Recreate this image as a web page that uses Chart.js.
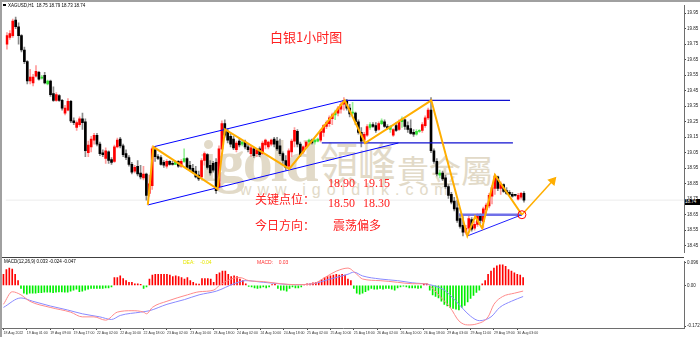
<!DOCTYPE html>
<html><head><meta charset="utf-8">
<script src="https://cdn.jsdelivr.net/npm/chart.js@4.4.1/dist/chart.umd.min.js"></script>
<style>
html,body{margin:0;padding:0;background:#fff;}
#wrap{position:relative;width:700px;height:337px;overflow:hidden;background:#fff;}
canvas{position:absolute;left:0;}
.t{position:absolute;white-space:pre;line-height:1;}
.wm{position:absolute;white-space:pre;line-height:1;color:#e2dac8;z-index:0;}
.red{color:#ff2020;z-index:3;}
</style></head><body>
<div id="wrap">
  <div class="wm" style="left:200px;top:127px;font:bold 60px 'Liberation Serif';letter-spacing:-2px;">igold</div>
  <div class="wm" style="left:320px;top:128px;font:38px 'Noto Sans CJK TC';transform:scaleY(1.2);transform-origin:0 0;">領峰</div>
  <div class="wm" style="left:397px;top:146px;font:32px 'Noto Sans CJK TC';">貴金屬</div>
  <div class="wm" style="left:240px;top:181px;font:16px 'Liberation Sans';letter-spacing:6px;">www.igoldhk.com</div>

  <canvas id="main" width="700" height="258" style="top:0;z-index:1"></canvas>
  <canvas id="macd" width="700" height="79" style="top:258px;z-index:1"></canvas>

  <div class="t" style="left:0;top:0;width:700px;height:2px;background:#a0a0a0;z-index:4"></div>
  <div class="t" style="left:0;top:0;width:2px;height:337px;background:#a0a0a0;z-index:4"></div>
  <div class="t" style="left:2px;top:257px;width:682px;height:1px;background:#404040;z-index:4"></div>

  <div class="t" style="left:3px;top:4px;width:3px;height:2px;background:#000;z-index:4"></div>
  <div class="t" style="left:8px;top:3px;font:4.5px 'Liberation Sans';color:#000;z-index:4">XAGUSD,H1  18.75 18.79 18.73 18.74</div>
  <div class="t" style="left:685px;top:199px;width:15px;height:6px;background:#000;color:#fff;font:4.5px 'Liberation Sans';line-height:6px;z-index:4">18.74</div>

  <div class="t red" style="left:270px;top:27px;font:13px 'Noto Sans CJK SC';">白银1小时图</div>
  <div class="t red" style="left:328px;top:176px;font:12px 'Liberation Serif';">18.90</div>
  <div class="t red" style="left:363px;top:176px;font:12px 'Liberation Serif';">19.15</div>
  <div class="t red" style="left:255px;top:190px;font:12px 'Noto Sans CJK SC';">关键点位：</div>
  <div class="t red" style="left:328px;top:196px;font:12px 'Liberation Serif';">18.50</div>
  <div class="t red" style="left:363px;top:196px;font:12px 'Liberation Serif';">18.30</div>
  <div class="t red" style="left:255px;top:216px;font:12px 'Noto Sans CJK SC';">今日方向：</div>
  <div class="t red" style="left:333px;top:216px;font:12px 'Noto Sans CJK SC';">震荡偏多</div>

  <div class="t" style="left:4px;top:259px;font:4.5px 'Liberation Sans';color:#000;z-index:4">MACD(12,26,9) 0.033 -0.024 -0.047</div>
  <div class="t" style="left:183px;top:259px;font:5px 'Liberation Sans';color:#e6e600;z-index:4">DEA:    -0.04</div>
  <div class="t" style="left:257px;top:259px;font:5px 'Liberation Sans';color:#ff3030;z-index:4">MACD:    0.03</div>
</div>
<script>
// ---------- data ----------
const open = [19.750,19.794,19.806,19.906,19.863,19.806,19.713,19.638,19.513,19.500,
19.544,19.569,19.531,19.550,19.494,19.513,19.431,19.388,19.419,19.388,
19.306,19.325,19.381,19.256,19.213,19.231,19.269,19.250,19.050,19.088,
19.131,19.163,19.106,19.050,19.013,19.056,19.006,18.994,19.088,19.138,
19.094,19.044,19.019,18.975,18.931,18.963,18.919,18.888,18.913,18.788,
18.838,19.069,19.025,19.019,18.988,18.963,18.994,18.981,18.975,18.994,
18.963,18.994,19.013,18.969,18.950,18.931,18.906,18.894,19.000,19.038,
18.969,18.981,18.988,18.831,19.075,19.238,19.188,19.156,19.138,19.069,
19.125,19.106,19.119,19.088,19.044,19.075,19.044,19.075,19.044,19.100,
19.088,19.106,19.138,19.125,19.094,19.044,19.000,18.963,19.056,19.125,
19.188,19.106,19.056,19.088,19.119,19.131,19.119,19.125,19.131,19.181,
19.219,19.238,19.269,19.294,19.306,19.331,19.363,19.381,19.338,19.306,
19.306,19.250,19.181,19.131,19.163,19.213,19.231,19.225,19.200,19.238,
19.250,19.219,19.200,19.163,19.225,19.200,19.250,19.263,19.225,19.206,
19.181,19.169,19.188,19.194,19.225,19.275,19.325,19.063,18.994,18.906,
18.919,18.888,18.831,18.781,18.738,18.694,18.625,18.581,18.538,18.563,
18.619,18.563,18.588,18.644,18.606,18.681,18.706,18.769,18.819,18.894,
18.819,18.844,18.806,18.794,18.781,18.775,18.750,18.763,18.788];
const high = [19.825,19.838,19.913,19.925,19.888,19.813,19.731,19.644,19.588,19.556,
19.613,19.575,19.550,19.569,19.519,19.519,19.475,19.438,19.425,19.394,
19.356,19.400,19.388,19.275,19.256,19.281,19.306,19.269,19.125,19.156,
19.175,19.175,19.119,19.069,19.081,19.063,19.019,19.100,19.144,19.150,
19.106,19.069,19.031,18.988,18.969,19.000,18.969,18.963,18.919,18.906,
19.088,19.088,19.038,19.031,19.000,19.006,19.000,18.994,19.000,19.000,
19.006,19.075,19.019,18.994,18.975,18.963,18.931,19.013,19.056,19.044,
19.000,18.994,19.013,19.094,19.256,19.263,19.206,19.175,19.156,19.125,
19.144,19.131,19.131,19.106,19.094,19.081,19.075,19.088,19.125,19.138,
19.125,19.138,19.150,19.150,19.138,19.056,19.031,19.075,19.138,19.213,
19.200,19.119,19.094,19.125,19.138,19.138,19.138,19.144,19.200,19.231,
19.256,19.288,19.306,19.325,19.350,19.375,19.406,19.394,19.363,19.375,
19.313,19.263,19.213,19.181,19.231,19.244,19.244,19.244,19.250,19.269,
19.263,19.231,19.225,19.206,19.244,19.263,19.281,19.269,19.250,19.263,
19.200,19.200,19.200,19.244,19.288,19.338,19.406,19.075,19.013,18.938,
18.931,18.906,18.844,18.794,18.763,18.744,18.656,18.638,18.581,18.650,
18.631,18.606,18.656,18.656,18.700,18.725,18.788,18.838,18.913,18.900,
18.863,18.850,18.825,18.806,18.794,18.781,18.788,18.794,18.800];
const low = [19.719,19.781,19.794,19.850,19.750,19.700,19.625,19.494,19.494,19.481,
19.538,19.519,19.525,19.494,19.488,19.413,19.381,19.381,19.381,19.325,
19.294,19.319,19.244,19.231,19.194,19.219,19.200,19.025,19.025,19.056,
19.106,19.094,19.031,19.025,18.981,18.981,18.975,18.988,19.081,19.081,
19.025,19.006,18.963,18.913,18.919,18.900,18.881,18.875,18.744,18.769,
18.813,18.994,19.006,18.969,18.956,18.950,18.969,18.969,18.975,18.956,
18.956,18.988,18.944,18.938,18.919,18.888,18.869,18.881,18.969,18.944,
18.906,18.925,18.788,18.813,19.069,19.150,19.113,19.088,19.069,19.056,
19.088,19.094,19.075,19.056,19.025,19.019,19.025,19.025,19.038,19.075,
19.075,19.094,19.088,19.063,19.031,18.981,18.938,18.944,19.025,19.088,
19.088,19.025,19.044,19.081,19.106,19.106,19.106,19.119,19.119,19.156,
19.206,19.219,19.231,19.263,19.288,19.306,19.325,19.325,19.281,19.294,
19.231,19.169,19.088,19.119,19.156,19.200,19.213,19.181,19.194,19.231,
19.213,19.200,19.181,19.156,19.188,19.194,19.213,19.200,19.181,19.169,
19.156,19.163,19.181,19.181,19.213,19.263,19.050,18.981,18.900,18.888,
18.869,18.819,18.756,18.719,18.675,18.600,18.563,18.513,18.525,18.550,
18.544,18.550,18.575,18.594,18.563,18.656,18.694,18.719,18.781,18.806,
18.781,18.794,18.781,18.775,18.763,18.769,18.744,18.750,18.731];
const close = [19.806,19.819,19.900,19.863,19.806,19.713,19.638,19.513,19.538,19.538,
19.575,19.525,19.538,19.500,19.513,19.425,19.388,19.425,19.388,19.338,
19.338,19.381,19.256,19.244,19.244,19.269,19.244,19.063,19.100,19.138,
19.163,19.106,19.044,19.038,19.063,19.000,18.988,19.088,19.131,19.094,
19.038,19.019,18.975,18.925,18.956,18.913,18.894,18.913,18.775,18.850,
19.075,19.025,19.013,18.975,18.969,18.994,18.975,18.975,18.994,18.963,
18.994,19.013,18.956,18.944,18.925,18.894,18.881,19.000,19.044,18.956,
18.919,18.938,18.806,19.075,19.238,19.163,19.131,19.106,19.081,19.113,
19.100,19.119,19.088,19.069,19.081,19.031,19.069,19.038,19.113,19.131,
19.119,19.131,19.106,19.075,19.044,19.000,18.956,19.063,19.125,19.194,
19.106,19.038,19.088,19.119,19.131,19.113,19.131,19.138,19.188,19.225,
19.244,19.275,19.294,19.313,19.338,19.363,19.388,19.338,19.300,19.313,
19.250,19.181,19.125,19.169,19.219,19.231,19.219,19.194,19.238,19.256,
19.219,19.206,19.219,19.200,19.194,19.250,19.269,19.219,19.200,19.175,
19.169,19.188,19.194,19.231,19.275,19.325,19.063,18.994,18.913,18.919,
18.881,18.831,18.775,18.731,18.688,18.613,18.575,18.538,18.563,18.625,
18.556,18.588,18.644,18.613,18.688,18.713,18.775,18.825,18.900,18.819,
18.850,18.800,18.788,18.781,18.769,18.775,18.775,18.788,18.744];

const macdHist = [0.047,0.067,0.073,0.069,0.047,0.020,-0.013,-0.033,-0.037,-0.033,
-0.033,-0.033,-0.031,-0.031,-0.029,-0.029,-0.029,-0.031,-0.029,-0.028,
-0.028,-0.029,-0.029,-0.024,-0.020,-0.016,-0.027,-0.024,-0.020,-0.016,
-0.013,-0.013,-0.013,-0.013,-0.013,-0.011,-0.011,-0.007,0.033,0.033,
0.040,0.029,0.020,0.013,0.013,0.007,0.007,0.004,-0.013,-0.007,
0.027,0.043,0.047,0.047,0.047,0.047,0.047,0.043,0.037,0.040,
0.037,0.033,0.027,0.033,0.020,0.013,0.007,0.005,0.029,0.029,
0.029,0.027,0.013,0.047,0.053,0.060,0.060,0.047,0.037,0.040,
0.037,0.027,0.020,0.007,-0.004,-0.007,-0.011,-0.013,-0.011,-0.007,
-0.011,-0.007,0.003,0.004,-0.013,-0.020,-0.020,-0.024,-0.013,-0.007,
-0.011,-0.011,-0.007,0.004,0.007,0.007,0.011,0.013,0.016,0.024,
0.033,0.037,0.040,0.043,0.047,0.043,0.047,0.043,0.027,0.020,
-0.013,-0.033,-0.037,-0.033,-0.027,-0.020,-0.013,-0.016,-0.016,-0.013,
-0.016,-0.013,-0.013,-0.016,-0.020,-0.011,-0.007,-0.003,-0.007,-0.011,
-0.011,-0.011,-0.013,-0.011,0.004,0.007,-0.020,-0.040,-0.047,-0.053,
-0.067,-0.080,-0.087,-0.093,-0.097,-0.100,-0.104,-0.093,-0.085,-0.070,
-0.055,-0.042,-0.030,-0.020,0.007,0.020,0.047,0.060,0.073,0.083,
0.087,0.087,0.080,0.067,0.060,0.053,0.047,0.043,0.033];

// MACD lines read at bar positions [bar, value]
const difLine = [[0,-0.080],[3,-0.027],[6,-0.040],[9,-0.067],[16,-0.093],[23,-0.113],[27,-0.133],[31,-0.133],[35,-0.147],[39,-0.113],[44,-0.107],[48,-0.113],[49,-0.120],[51,-0.093],[56,-0.067],[63,-0.040],[67,-0.027],[72,-0.020],[74,0.000],[78,0.027],[81,0.033],[84,0.020],[89,0.016],[95,0.007],[100,0.003],[106,0.007],[111,0.040],[114,0.060],[118,0.073],[121,0.047],[123,0.027],[129,0.020],[135,0.013],[140,0.007],[145,0.007],[147,-0.013],[150,-0.053],[153,-0.093],[156,-0.150],[159,-0.167],[162,-0.163],[166,-0.133],[168,-0.080],[171,-0.047],[175,-0.033],[178,-0.024]];
const deaLine = [[0,-0.093],[6,-0.053],[10,-0.067],[16,-0.087],[22,-0.104],[27,-0.120],[33,-0.133],[37,-0.144],[40,-0.127],[47,-0.113],[50,-0.107],[56,-0.080],[62,-0.060],[67,-0.040],[73,-0.024],[79,0.007],[83,0.020],[89,0.013],[100,0.003],[106,0.007],[112,0.027],[118,0.047],[120,0.056],[123,0.040],[129,0.027],[135,0.020],[140,0.011],[146,0.003],[151,-0.020],[155,-0.067],[160,-0.130],[163,-0.149],[167,-0.133],[170,-0.093],[174,-0.067],[178,-0.047]];

const priceTicks = [19.95,19.85,19.75,19.65,19.55,19.45,19.35,19.25,19.15,19.05,18.95,18.85,18.75,18.65,18.55,18.45];
const macdTicks = [0.096,0,-0.172];
const timeLabels = ['18 Aug 2022','19 Aug 01:00','19 Aug 09:00','19 Aug 17:00','22 Aug 02:00','22 Aug 10:00','22 Aug 18:00','23 Aug 02:00','23 Aug 10:00','23 Aug 18:00','24 Aug 02:00','24 Aug 10:00','24 Aug 18:00','25 Aug 02:00','25 Aug 10:00','25 Aug 18:00','26 Aug 02:00','26 Aug 10:00','26 Aug 18:00','29 Aug 03:00','29 Aug 11:00','29 Aug 19:00','30 Aug 03:00'];

// hand-drawn analysis lines, in [bar, price]
const channelUpper = [[50.4,19.088],[116.3,19.388]];
const channelLower = [[48.5,18.713],[134.8,19.113]];
const resistTop = [[116.3,19.388],[173.2,19.388]];
const resistMid = [[108.4,19.113],[174.2,19.113]];
const supportLine = [[155.7,18.650],[177.3,18.650]];
const triangleLow = [[158.5,18.513],[177.3,18.650]];
const waveLine = [[48.5,18.713],[50.4,19.088],[72.5,18.815],[75.1,19.200],[97.2,18.946],[116.3,19.388],[123.3,19.113],[146.1,19.388],[158.5,18.513],[161.2,18.638],[163.6,18.563],[168.0,18.906],[177.3,18.650]];
const forecastArrow = [[177.3,18.650],[187.9,18.869]];
const circleMark = [[177.3,18.650]];

// ---------- chart ----------
const XMIN = -0.5, XMAX = 233.1;
const FONT = 'Liberation Sans';
const idx = close.map((_, i) => i);
const pts = a => a.map(p => ({x: p[0], y: p[1]}));
const isUp = i => close[i] > open[i];
const isSmallUp = i => isUp(i) && (close[i] - open[i]) < 0.02;
const bodyColor = i => isSmallUp(i) ? '#33e033' : (isUp(i) ? '#ff0000' : '#000000');
const wickColor = i => isSmallUp(i) ? '#99f099' : (isUp(i) ? '#ff9c9c' : '#8a8a8a');

function lineDs(data, color, width, extra) {
  return Object.assign({type: 'line', data: pts(data), borderColor: color, borderWidth: width,
    pointRadius: 0, fill: false, tension: 0, order: 0}, extra || {});
}

new Chart(document.getElementById('main'), {
  type: 'bar',
  data: {
    datasets: [
      lineDs(circleMark, '#ff0000', 1, {pointRadius: 4, pointStyle: 'circle', pointBorderColor: '#ff0000', pointBackgroundColor: 'rgba(0,0,0,0)', pointBorderWidth: 1, showLine: false}),
      lineDs(forecastArrow, '#ffae00', 1.5, {pointRadius: [0, 4], pointStyle: 'triangle', pointRotation: 41.5, pointBackgroundColor: '#ffae00', pointBorderColor: '#ffae00'}),
      lineDs(waveLine, '#ffae00', 2),
      lineDs(channelUpper, '#0000ff', 1),
      lineDs(channelLower, '#0000ff', 1),
      lineDs(resistTop, '#1010d0', 1.3),
      lineDs(resistMid, '#1010d0', 1.3),
      lineDs(triangleLow, '#2020ff', 1),
      lineDs(supportLine, '#7070e8', 2.6),
      {
        type: 'bar', grouped: false, order: 1, barThickness: 2, minBarLength: 1, borderWidth: 0,
        data: idx.map(i => ({x: i, y: [Math.min(open[i], close[i]), Math.max(open[i], close[i])]})),
        backgroundColor: c => bodyColor(c.dataIndex)
      },
      {
        type: 'bar', grouped: false, order: 2, barThickness: 1, borderWidth: 0,
        data: idx.map(i => ({x: i, y: [low[i], high[i]]})),
        backgroundColor: c => wickColor(c.dataIndex)
      },
      lineDs([[XMIN, close[close.length - 1]], [XMAX, close[close.length - 1]]], '#ececec', 1, {order: 3})
    ]
  },
  options: {
    responsive: false, animation: false, devicePixelRatio: 1,
    layout: {padding: {left: 2, top: 2, right: 0, bottom: 1}},
    plugins: {legend: {display: false}, tooltip: {enabled: false}},
    scales: {
      x: {type: 'linear', min: XMIN, max: XMAX, display: false, offset: false, grid: {offset: false}},
      y: {
        position: 'right', min: 18.40625, max: 20.0,
        afterFit: s => { s.width = 16; },
        afterBuildTicks: s => { s.ticks = priceTicks.map(v => ({value: v})); },
        ticks: {autoSkip: false, padding: 1, color: '#222', font: {family: FONT, size: 4.5},
          callback: v => Number(v).toFixed(2)},
        grid: {drawOnChartArea: false, drawTicks: true, tickLength: 2, color: '#444'},
        border: {display: true, color: '#6e6e6e', width: 1}
      }
    }
  }
});

new Chart(document.getElementById('macd'), {
  type: 'bar',
  data: {
    datasets: [
      {type: 'line', data: pts(difLine), borderColor: '#ff8a8a', borderWidth: 1, pointRadius: 0, tension: 0.35, cubicInterpolationMode: 'monotone', order: 0},
      {type: 'line', data: pts(deaLine), borderColor: '#8a8aff', borderWidth: 1, pointRadius: 0, tension: 0.35, cubicInterpolationMode: 'monotone', order: 0},
      {
        type: 'bar', grouped: false, order: 1, barThickness: 1, borderWidth: 0,
        data: idx.map(i => ({x: i, y: macdHist[i]})),
        backgroundColor: c => macdHist[c.dataIndex] >= 0 ? '#ff0000' : '#00ee00'
      }
    ]
  },
  options: {
    responsive: false, animation: false, devicePixelRatio: 1,
    layout: {padding: {left: 2, top: 0, right: 0, bottom: 0}},
    plugins: {legend: {display: false}, tooltip: {enabled: false}},
    scales: {
      x: {
        type: 'linear', min: XMIN, max: XMAX, offset: false,
        afterFit: s => { s.height = 9; },
        afterBuildTicks: s => { s.ticks = timeLabels.map((t, k) => ({value: k * 8})); },
        ticks: {autoSkip: false, maxRotation: 0, minRotation: 0, align: 'start', padding: 1,
          color: '#333', font: {family: FONT, size: 3.5},
          callback: v => timeLabels[Math.round(v / 8)] || ''},
        grid: {drawOnChartArea: false, drawTicks: true, tickLength: 2, color: '#444', offset: false},
        border: {display: true, color: '#6e6e6e', width: 1}
      },
      y: {
        position: 'right', min: -0.18, max: 0.10,
        afterFit: s => { s.width = 16; },
        afterBuildTicks: s => { s.ticks = macdTicks.map(v => ({value: v})); },
        ticks: {autoSkip: false, padding: 1, color: '#222', font: {family: FONT, size: 4.5},
          callback: v => v === 0 ? '0.00' : String(v)},
        grid: {drawOnChartArea: false, drawTicks: true, tickLength: 2, color: '#444'},
        border: {display: true, color: '#6e6e6e', width: 1}
      }
    }
  }
});
</script>
</body></html>
